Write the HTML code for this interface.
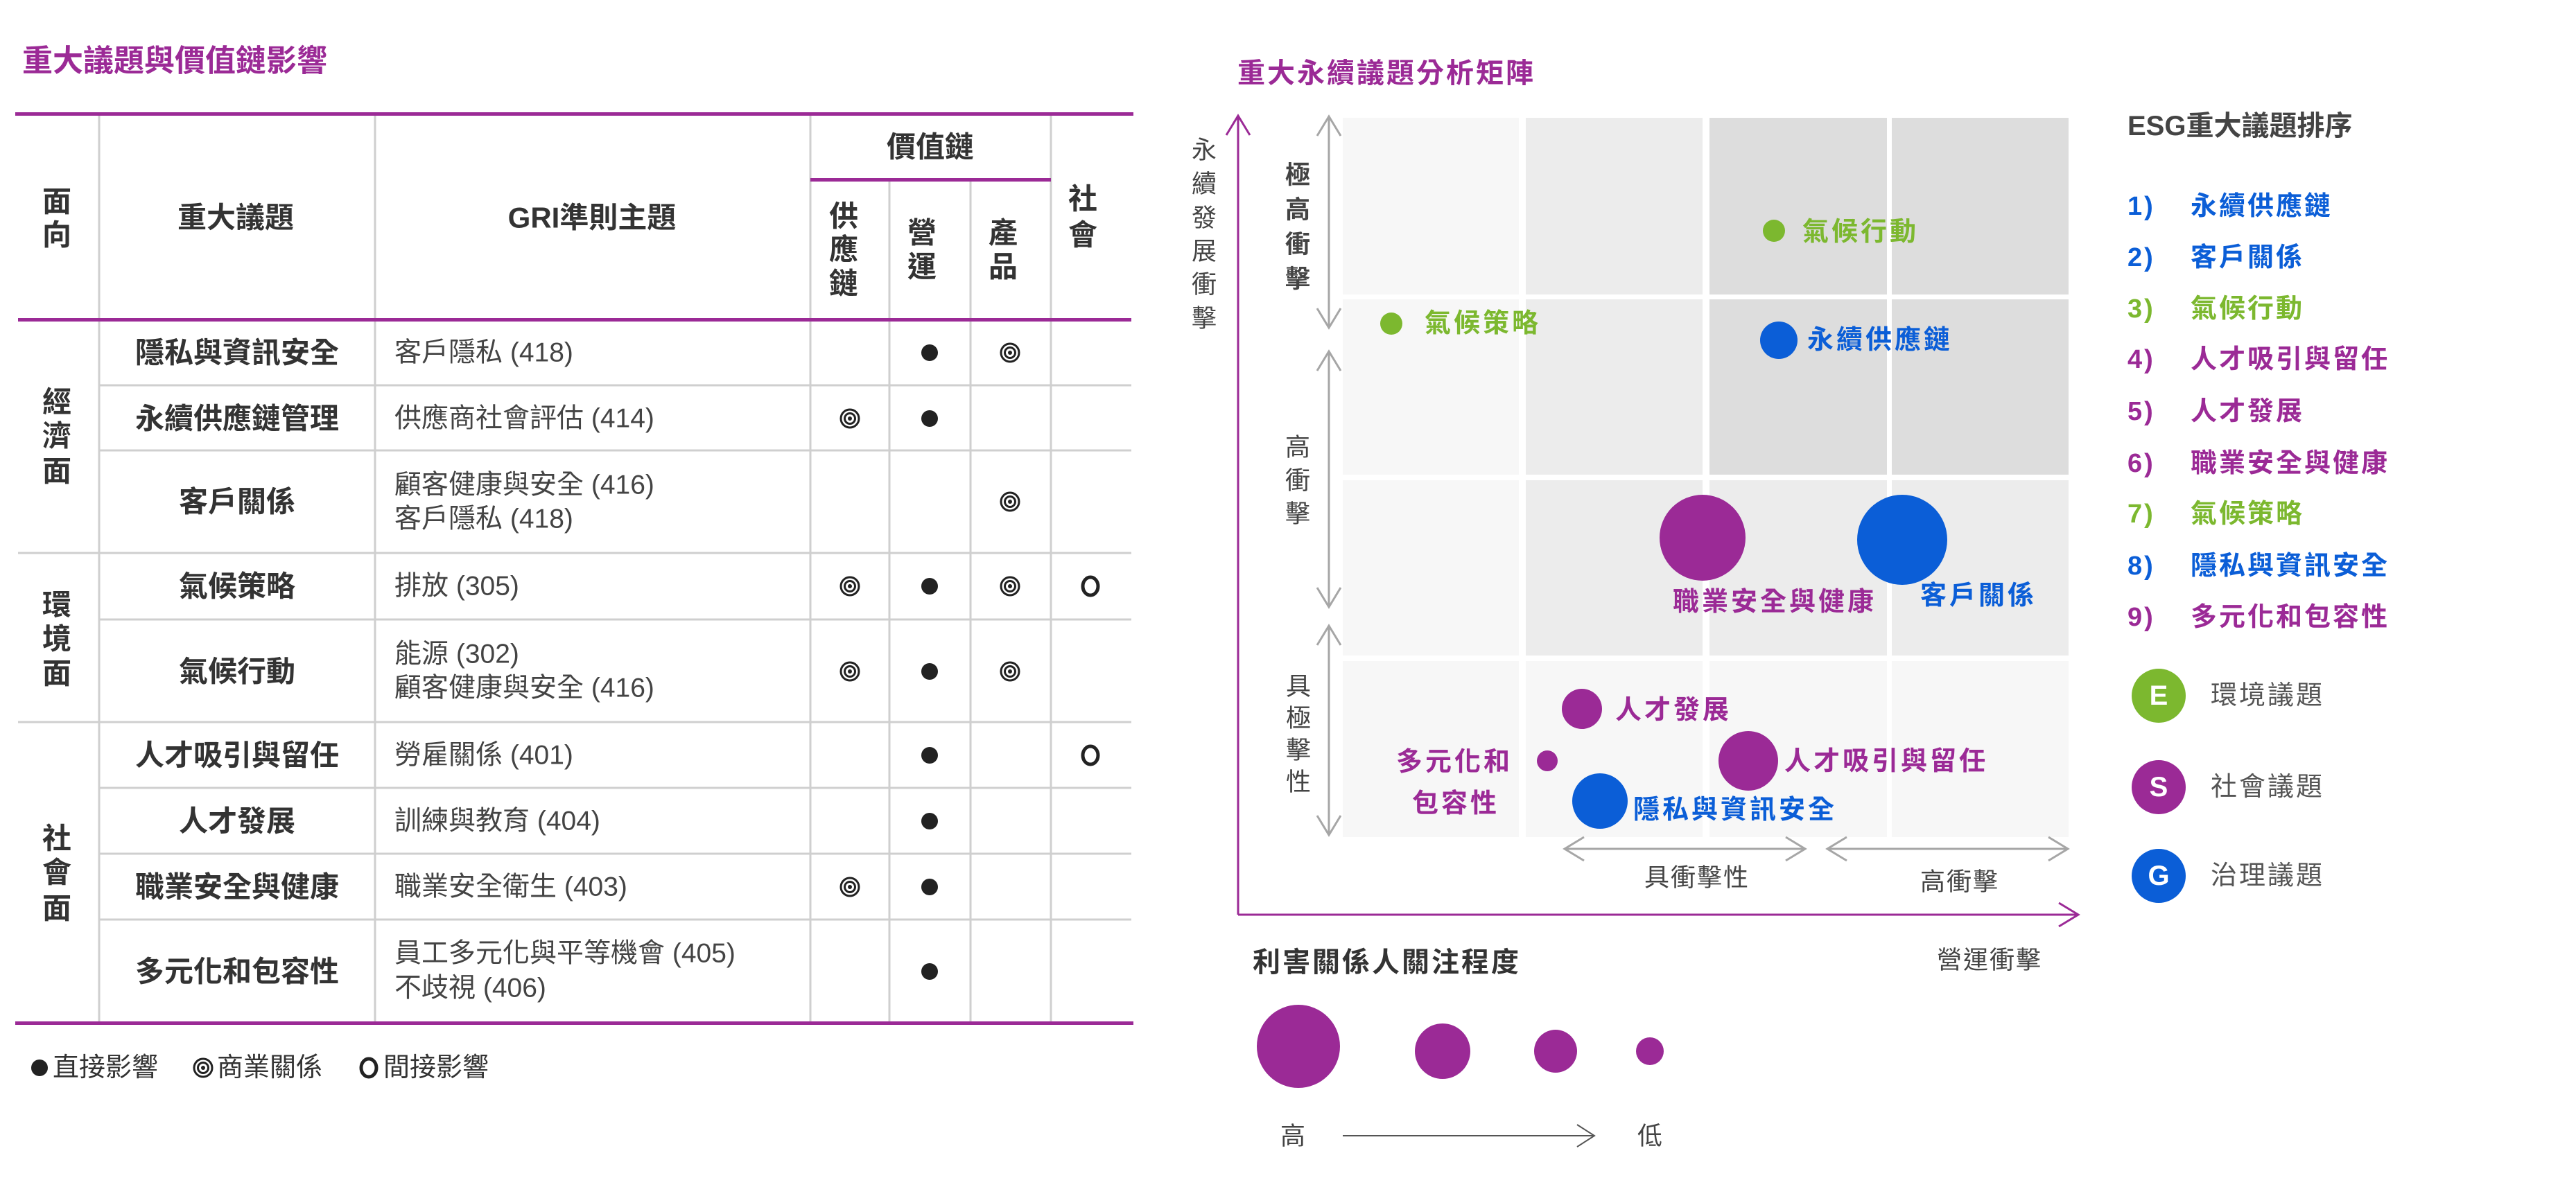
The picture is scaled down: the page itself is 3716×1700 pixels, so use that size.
<!DOCTYPE html>
<html><head><meta charset="utf-8"><style>
html,body{margin:0;padding:0;background:#fff;}
svg{display:block;}
text{font-family:"Liberation Sans","Noto Sans CJK TC",sans-serif;}
</style></head><body>
<svg width="3716" height="1700" viewBox="0 0 3716 1700" xmlns="http://www.w3.org/2000/svg">
<defs>
<g id="dot"><circle r="12" fill="#222"/></g>
<g id="bull"><circle r="13" fill="none" stroke="#222" stroke-width="3"/><circle r="7.5" fill="none" stroke="#222" stroke-width="3"/><circle r="3" fill="#222"/></g>
<g id="ring"><ellipse rx="11" ry="13" fill="none" stroke="#222" stroke-width="5"/></g>
</defs>

<!-- ===== LEFT TABLE ===== -->
<text x="32" y="88" font-size="44" fill="#9b2a96" dominant-baseline="central" font-weight="700">重大議題與價值鏈影響</text>

<g stroke="#cfcfcf" stroke-width="3">
<line x1="143" y1="166" x2="143" y2="1474"/>
<line x1="541" y1="166" x2="541" y2="1474"/>
<line x1="1169" y1="166" x2="1169" y2="1474"/>
<line x1="1283" y1="259" x2="1283" y2="1474"/>
<line x1="1400" y1="259" x2="1400" y2="1474"/>
<line x1="1516" y1="166" x2="1516" y2="1474"/>
<line x1="143" y1="556" x2="1632" y2="556"/>
<line x1="143" y1="650" x2="1632" y2="650"/>
<line x1="26" y1="798" x2="1632" y2="798"/>
<line x1="143" y1="894" x2="1632" y2="894"/>
<line x1="26" y1="1042" x2="1632" y2="1042"/>
<line x1="143" y1="1137" x2="1632" y2="1137"/>
<line x1="143" y1="1232" x2="1632" y2="1232"/>
<line x1="143" y1="1327" x2="1632" y2="1327"/>
</g>
<g fill="#9b2a96">
<rect x="22" y="162" width="1613" height="5"/>
<rect x="1169" y="257" width="347" height="5"/>
<rect x="26" y="459" width="1606" height="5"/>
<rect x="22" y="1474" width="1613" height="5"/>
</g>

<g font-size="42" font-weight="700" fill="#333" text-anchor="middle" dominant-baseline="central">
<text x="82" y="291">面</text><text x="82" y="339">向</text>
<text x="340" y="314">重大議題</text>
<text x="854" y="314">GRI準則主題</text>
<text x="1342" y="212">價值鏈</text>
<text x="1217" y="312">供</text><text x="1217" y="360">應</text><text x="1217" y="409">鏈</text>
<text x="1330" y="336">營</text><text x="1330" y="385">運</text>
<text x="1447" y="336">產</text><text x="1447" y="385">品</text>
<text x="1562" y="287">社</text><text x="1562" y="339">會</text>
<text x="82" y="580">經</text><text x="82" y="629">濟</text><text x="82" y="680">面</text>
<text x="82" y="873">環</text><text x="82" y="922">境</text><text x="82" y="972">面</text>
<text x="82" y="1210">社</text><text x="82" y="1259">會</text><text x="82" y="1311">面</text>
<text x="342" y="509">隱私與資訊安全</text>
<text x="342" y="604">永續供應鏈管理</text>
<text x="342" y="724">客戶關係</text>
<text x="342" y="846">氣候策略</text>
<text x="342" y="969">氣候行動</text>
<text x="342" y="1090">人才吸引與留任</text>
<text x="342" y="1185">人才發展</text>
<text x="342" y="1280">職業安全與健康</text>
<text x="342" y="1402">多元化和包容性</text>
</g>
<g font-size="39" fill="#444" dominant-baseline="central">
<text x="569" y="509">客戶隱私 (418)</text>
<text x="569" y="604">供應商社會評估 (414)</text>
<text x="569" y="700">顧客健康與安全 (416)</text>
<text x="569" y="749">客戶隱私 (418)</text>
<text x="569" y="846">排放 (305)</text>
<text x="569" y="944">能源 (302)</text>
<text x="569" y="993">顧客健康與安全 (416)</text>
<text x="569" y="1090">勞雇關係 (401)</text>
<text x="569" y="1185">訓練與教育 (404)</text>
<text x="569" y="1280">職業安全衛生 (403)</text>
<text x="569" y="1376">員工多元化與平等機會 (405)</text>
<text x="569" y="1426">不歧視 (406)</text>
</g>
<use href="#dot" x="1341" y="509"/><use href="#bull" x="1457" y="509"/>
<use href="#bull" x="1226" y="604"/><use href="#dot" x="1341" y="604"/>
<use href="#bull" x="1457" y="724"/>
<use href="#bull" x="1226" y="846"/><use href="#dot" x="1341" y="846"/><use href="#bull" x="1457" y="846"/><use href="#ring" x="1573" y="846"/>
<use href="#bull" x="1226" y="969"/><use href="#dot" x="1341" y="969"/><use href="#bull" x="1457" y="969"/>
<use href="#dot" x="1341" y="1090"/><use href="#ring" x="1573" y="1090"/>
<use href="#dot" x="1341" y="1185"/>
<use href="#bull" x="1226" y="1280"/><use href="#dot" x="1341" y="1280"/>
<use href="#dot" x="1341" y="1402"/>

<use href="#dot" x="57" y="1541"/>
<use href="#bull" x="293" y="1541"/>
<use href="#ring" x="532" y="1541"/>
<g font-size="38" fill="#333" dominant-baseline="central">
<text x="76" y="1541">直接影響</text>
<text x="313" y="1541">商業關係</text>
<text x="553" y="1541">間接影響</text>
</g>

<!-- ===== RIGHT MATRIX ===== -->
<text x="1785" y="106" font-size="40" fill="#9b2a96" font-weight="700" letter-spacing="3" dominant-baseline="central">重大永續議題分析矩陣</text>

<g>
<rect x="1937" y="170" width="254" height="255" fill="#f7f7f7"/>
<rect x="2201" y="170" width="255" height="255" fill="#ececec"/>
<rect x="2466" y="170" width="256" height="255" fill="#dddddd"/>
<rect x="2729" y="170" width="255" height="255" fill="#dddddd"/>
<rect x="1937" y="432" width="254" height="253" fill="#f7f7f7"/>
<rect x="2201" y="432" width="255" height="253" fill="#ececec"/>
<rect x="2466" y="432" width="256" height="253" fill="#dddddd"/>
<rect x="2729" y="432" width="255" height="253" fill="#dddddd"/>
<rect x="1937" y="693" width="254" height="253" fill="#f7f7f7"/>
<rect x="2201" y="693" width="255" height="253" fill="#ececec"/>
<rect x="2466" y="693" width="256" height="253" fill="#ececec"/>
<rect x="2729" y="693" width="255" height="253" fill="#ececec"/>
<rect x="1937" y="954" width="254" height="254" fill="#f7f7f7"/>
<rect x="2201" y="954" width="255" height="254" fill="#f7f7f7"/>
<rect x="2466" y="954" width="256" height="254" fill="#f7f7f7"/>
<rect x="2729" y="954" width="255" height="254" fill="#f7f7f7"/>
</g>

<g stroke="#9b2a96" stroke-width="3" fill="none">
<line x1="1786" y1="167" x2="1786" y2="1320"/>
<line x1="1786" y1="1320" x2="2998" y2="1320"/>
<polyline points="1769,195 1786,167 1803,195"/>
<polyline points="2970,1303 2998,1320 2970,1337"/>
</g>
<g stroke="#a6a6a6" stroke-width="3" fill="none">
<line x1="1917" y1="168" x2="1917" y2="471"/>
<polyline points="1900,196 1917,168 1934,196"/><polyline points="1900,445 1917,473 1934,445"/>
<line x1="1917" y1="507" x2="1917" y2="874"/>
<polyline points="1900,535 1917,507 1934,535"/><polyline points="1900,848 1917,876 1934,848"/>
<line x1="1917" y1="903" x2="1917" y2="1203"/>
<polyline points="1900,931 1917,903 1934,931"/><polyline points="1900,1177 1917,1205 1934,1177"/>
<line x1="2257" y1="1225" x2="2604" y2="1225"/>
<polyline points="2285,1208 2257,1225 2285,1242"/><polyline points="2576,1208 2604,1225 2576,1242"/>
<line x1="2636" y1="1225" x2="2983" y2="1225"/>
<polyline points="2664,1208 2636,1225 2664,1242"/><polyline points="2955,1208 2983,1225 2955,1242"/>
<line x1="1937" y1="1639" x2="2298" y2="1639" stroke="#555" stroke-width="2"/>
<polyline points="2275,1623 2300,1639 2275,1655" stroke="#555" stroke-width="2"/>
</g>

<g font-size="36" fill="#444" text-anchor="middle" dominant-baseline="central">
<text x="1737" y="216">永</text><text x="1737" y="265">續</text><text x="1737" y="314">發</text><text x="1737" y="362">展</text><text x="1737" y="410">衝</text><text x="1737" y="459">擊</text>
<text x="1872" y="252" font-weight="700">極</text><text x="1872" y="302" font-weight="700">高</text><text x="1872" y="352" font-weight="700">衝</text><text x="1872" y="402" font-weight="700">擊</text>
<text x="1872" y="645">高</text><text x="1872" y="693">衝</text><text x="1872" y="741">擊</text>
<text x="1873" y="990">具</text><text x="1873" y="1036">極</text><text x="1873" y="1082">擊</text><text x="1873" y="1128">性</text>
<text x="2448" y="1266" letter-spacing="2">具衝擊性</text>
<text x="2827" y="1272" letter-spacing="2">高衝擊</text>
<text x="2870" y="1385" letter-spacing="2">營運衝擊</text>
<text x="1865" y="1639">高</text>
<text x="2380" y="1639">低</text>
</g>
<text x="1807" y="1389" font-size="40" fill="#333" font-weight="700" letter-spacing="3" dominant-baseline="central">利害關係人關注程度</text>

<g fill="#9b2a96">
<circle cx="1873" cy="1510" r="60"/>
<circle cx="2081" cy="1517" r="40"/>
<circle cx="2244" cy="1517" r="31"/>
<circle cx="2380" cy="1517" r="20"/>
</g>

<circle cx="2559" cy="333" r="16" fill="#7cb82f"/>
<circle cx="2007" cy="467" r="16" fill="#7cb82f"/>
<circle cx="2566" cy="491" r="27" fill="#0b5ed7"/>
<circle cx="2456" cy="776" r="62" fill="#9b2a96"/>
<circle cx="2744" cy="779" r="65" fill="#0b5ed7"/>
<circle cx="2282" cy="1023" r="29" fill="#9b2a96"/>
<circle cx="2232" cy="1098" r="15" fill="#9b2a96"/>
<circle cx="2522" cy="1098" r="43" fill="#9b2a96"/>
<circle cx="2308" cy="1156" r="40" fill="#0b5ed7"/>

<g font-size="38" font-weight="700" letter-spacing="4" dominant-baseline="central">
<text x="2600" y="335" fill="#7cb82f">氣候行動</text>
<text x="2055" y="467" fill="#7cb82f">氣候策略</text>
<text x="2607" y="491" fill="#0b5ed7">永續供應鏈</text>
<text x="2413" y="869" fill="#9b2a96">職業安全與健康</text>
<text x="2770" y="860" fill="#0b5ed7">客戶關係</text>
<text x="2330" y="1025" fill="#9b2a96">人才發展</text>
<text x="2574" y="1099" fill="#9b2a96">人才吸引與留任</text>
<text x="2356" y="1169" fill="#0b5ed7">隱私與資訊安全</text>
<text x="2014" y="1100" fill="#9b2a96">多元化和</text>
<text x="2037" y="1160" fill="#9b2a96">包容性</text>
</g>

<text x="3069" y="182" font-size="40" font-weight="700" fill="#444" dominant-baseline="central">ESG重大議題排序</text>
<g font-size="38" font-weight="700" letter-spacing="3" dominant-baseline="central">
<text x="3069" y="298" fill="#0b5ed7">1)</text><text x="3160" y="298" fill="#0b5ed7">永續供應鏈</text>
<text x="3069" y="372" fill="#0b5ed7">2)</text><text x="3160" y="372" fill="#0b5ed7">客戶關係</text>
<text x="3069" y="446" fill="#7cb82f">3)</text><text x="3160" y="446" fill="#7cb82f">氣候行動</text>
<text x="3069" y="519" fill="#9b2a96">4)</text><text x="3160" y="519" fill="#9b2a96">人才吸引與留任</text>
<text x="3069" y="594" fill="#9b2a96">5)</text><text x="3160" y="594" fill="#9b2a96">人才發展</text>
<text x="3069" y="669" fill="#9b2a96">6)</text><text x="3160" y="669" fill="#9b2a96">職業安全與健康</text>
<text x="3069" y="742" fill="#7cb82f">7)</text><text x="3160" y="742" fill="#7cb82f">氣候策略</text>
<text x="3069" y="817" fill="#0b5ed7">8)</text><text x="3160" y="817" fill="#0b5ed7">隱私與資訊安全</text>
<text x="3069" y="891" fill="#9b2a96">9)</text><text x="3160" y="891" fill="#9b2a96">多元化和包容性</text>
</g>
<circle cx="3114" cy="1004" r="39" fill="#7cb82f"/>
<circle cx="3114" cy="1136" r="39" fill="#9b2a96"/>
<circle cx="3114" cy="1264" r="39" fill="#0b5ed7"/>
<g font-size="40" font-weight="700" fill="#fff" text-anchor="middle" dominant-baseline="central">
<text x="3114" y="1004">E</text><text x="3114" y="1136">S</text><text x="3114" y="1264">G</text>
</g>
<g font-size="38" fill="#555" letter-spacing="3" dominant-baseline="central">
<text x="3189" y="1004">環境議題</text>
<text x="3189" y="1136">社會議題</text>
<text x="3189" y="1264">治理議題</text>
</g>
</svg>
</body></html>
